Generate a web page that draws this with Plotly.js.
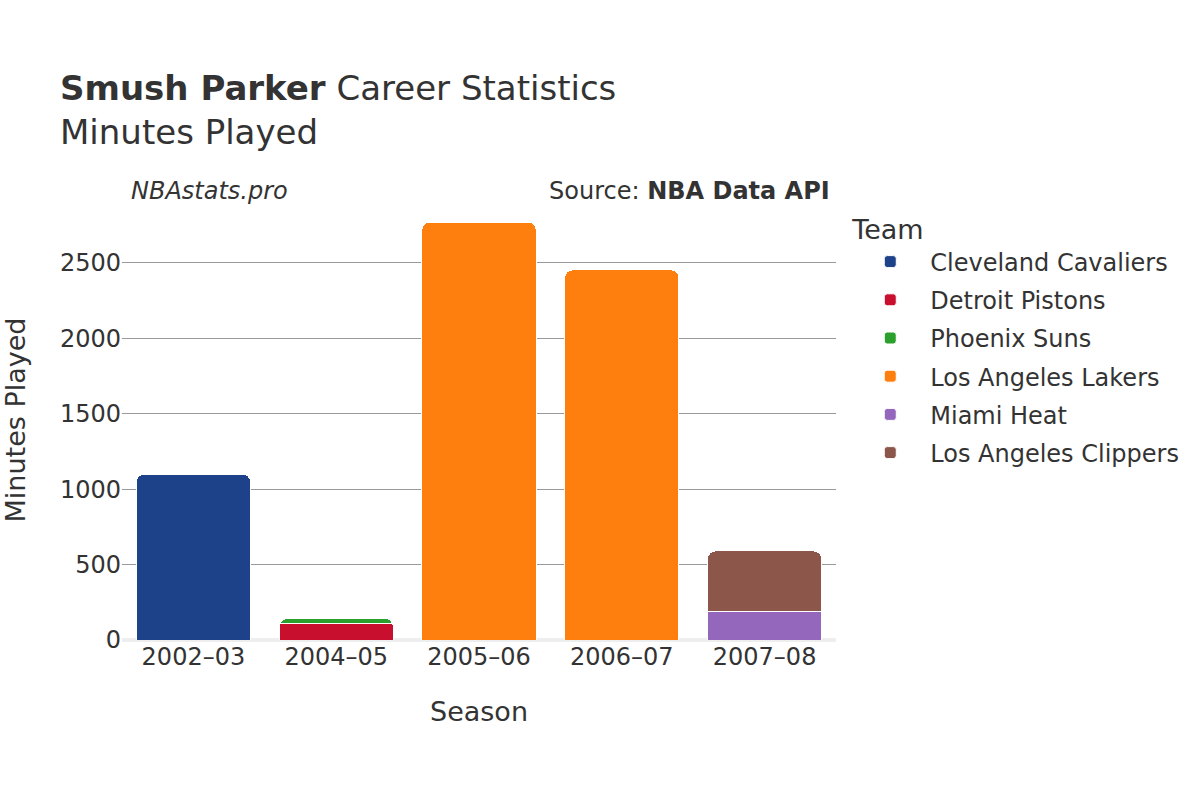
<!DOCTYPE html>
<html>
<head>
<meta charset="utf-8">
<script src="https://cdn.plot.ly/plotly-3.0.1.min.js"></script>
<style>body{margin:0;} #plot{width:1200px;height:800px;}</style>
</head>
<body>
<div id="plot"></div>
<script>
// seasons on the x axis
var seasons = ["2002\u201303", "2004\u201305", "2005\u201306", "2006\u201307", "2007\u201308"];

// minutes per team, one entry per season (null = did not play there)
var cavaliers = [1100, null, null, null, null];
var pistons   = [null, 111, null, null, null];
var suns      = [null, 30, null, null, null];
var lakers    = [null, null, 2770, 2453, null];
var heat      = [null, null, null, null, 186];
var clippers  = [null, null, null, null, 404];

var teams  = ["Cleveland Cavaliers", "Detroit Pistons", "Phoenix Suns", "Los Angeles Lakers", "Miami Heat", "Los Angeles Clippers"];
var values = [cavaliers, pistons, suns, lakers, heat, clippers];
var colors = ["#1d428a", "#c8102e", "#2ca02c", "#ff7f0e", "#9467bd", "#8c564b"];

var data = teams.map(function(team, i) {
  return {
    type: "bar",
    name: team,
    legendgroup: team,
    x: seasons,
    y: values[i],
    marker: {color: colors[i], line: {color: "white", width: 1}, cornerradius: 8}
  };
});

var layout = {
  width: 1200,
  height: 800,
  font: {family: "DejaVu Sans, sans-serif", color: "#333", size: 24},
  barmode: "stack",
  bargap: 0.2,
  paper_bgcolor: "white",
  plot_bgcolor: "white",
  margin: {l: 122, r: 364, t: 200, b: 160},
  title: {
    text: "<b>Smush Parker</b> Career Statistics<br>Minutes Played",
    x: 0.05, xanchor: "left", y: 0.875, yanchor: "top",
    font: {size: 34}
  },
  xaxis: {
    title: {text: "Season", font: {size: 27}, standoff: 32},
    tickfont: {size: 24},
    showgrid: false
  },
  yaxis: {
    title: {text: "Minutes Played", font: {size: 27}, standoff: 28},
    tickfont: {size: 24},
    gridcolor: "#999",
    gridwidth: 1,
    zeroline: true,
    zerolinecolor: "#eee",
    zerolinewidth: 4,
    range: [0, 2916]
  },
  legend: {
    title: {text: "Team", font: {size: 27}},
    font: {size: 24},
    traceorder: "grouped",
    itemwidth: 70,
    x: 1.02, xanchor: "left", y: 0.99, yanchor: "top",
    tracegroupgap: 4
  },
  annotations: [
    {text: "<i>NBAstats.pro</i>", xref: "paper", yref: "paper", x: 0.01, y: 0.985,
     xanchor: "left", yanchor: "bottom", showarrow: false, font: {size: 24}},
    {text: "Source: <b>NBA Data API</b>", xref: "paper", yref: "paper", x: 0.995, y: 0.985,
     xanchor: "right", yanchor: "bottom", showarrow: false, font: {size: 24}}
  ]
};

Plotly.newPlot("plot", data, layout, {displayModeBar: false});
</script>
</body>
</html>
